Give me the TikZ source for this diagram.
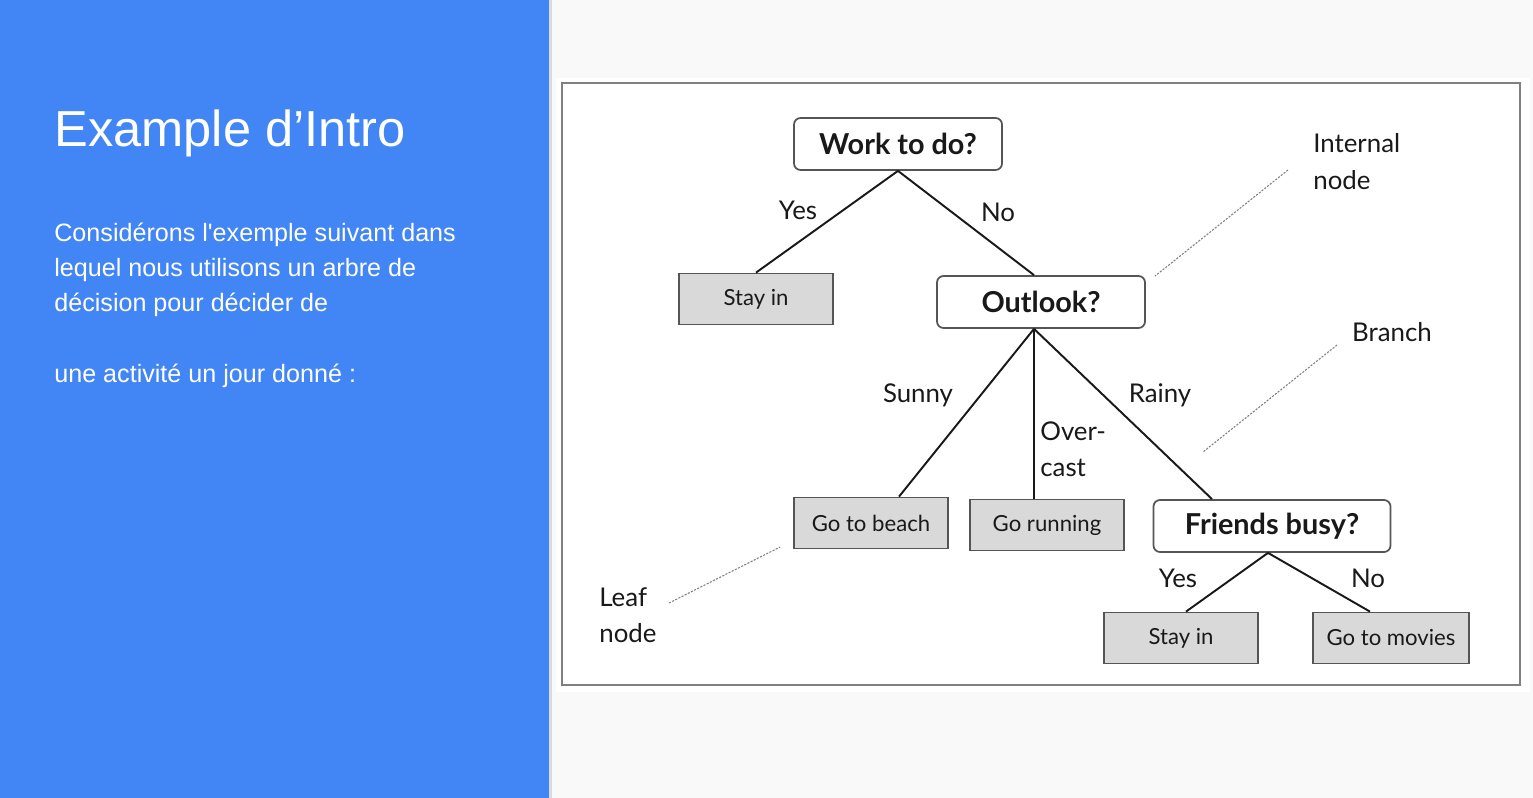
\documentclass[tikz,border=0pt]{standalone}
\usepackage{fontspec}
\setmainfont{Lato}
\newfontfamily\slidefont{Liberation Sans}
\usetikzlibrary{positioning,calc}
\definecolor{SlideBlue}{RGB}{66,133,244}
\definecolor{PageGray}{RGB}{249,249,249}
\definecolor{LeafGray}{RGB}{217,217,217}
\definecolor{EdgeGray}{RGB}{85,85,85}
\definecolor{InkBlack}{RGB}{25,25,25}

\begin{document}
\begin{tikzpicture}[x=0.2mm, y=-0.2mm,
  decision/.style={draw=EdgeGray, line width=1pt, rounded corners=1.3mm, fill=white,
    minimum height=10.4mm, text=InkBlack, font=\fontsize{16.4}{19}\selectfont\bfseries},
  leaf/.style={draw=EdgeGray, line width=1pt, fill=LeafGray, minimum width=30.8mm,
    minimum height=10.2mm, text=InkBlack, font=\fontsize{12.6}{15}\selectfont},
  lbl/.style={text=InkBlack, inner sep=0pt, font=\fontsize{14.7}{17}\selectfont},
  slidetext/.style={anchor=base west, text=white, inner sep=0pt},
  branch/.style={InkBlack, line width=1.1pt},
  pointer/.style={gray, dash pattern=on 1.2pt off 0.8pt, line width=0.6pt}]

  % Page and side panel
  \useasboundingbox (0,0) rectangle (1533,798);
  \fill[PageGray] (0,0) rectangle (1533,798);
  \fill[SlideBlue] (0,0) rectangle (549,798);
  \fill[black, opacity=0.12] (549,0) rectangle (552,798);

  % Slide text
  \node[slidetext, font=\slidefont\fontsize{28.8}{34}\selectfont] (title) at (54,147) {Example d’Intro};
  \node[slidetext, font=\slidefont\fontsize{14.3}{17}\selectfont] (line1) at (54,242) {Considérons l'exemple suivant dans};
  \node[slidetext, font=\slidefont\fontsize{14.3}{17}\selectfont] (line2) at (54,277) {lequel nous utilisons un arbre de};
  \node[slidetext, font=\slidefont\fontsize{14.3}{17}\selectfont] (line3) at (54,312) {décision pour décider de};
  \node[slidetext, font=\slidefont\fontsize{14.3}{17}\selectfont] (line4) at (54,382) {une activité un jour donné :};

  % Picture frame
  \fill[white] (556,78) rectangle (1530,692);
  \draw[gray, line width=0.8pt] (562,83) rectangle (1520,685);

  % Decision nodes
  \node[decision, minimum width=41.6mm] (work) at (898,144) {Work to do?};
  \node[decision, minimum width=41.6mm] (outlook) at (1041,302) {Outlook?};
  \node[decision, minimum width=47.4mm] (friends) at (1272,526) {Friends busy?};

  % Leaf nodes
  \node[leaf] (stayA) at (756,299) {Stay in};
  \node[leaf] (beach) at (871,523) {Go to beach};
  \node[leaf] (running) at (1047,525) {Go running};
  \node[leaf] (stayB) at (1181,638) {Stay in};
  \node[leaf, minimum width=31.2mm] (movies) at (1391,638) {Go to movies};

  % Branches
  \draw[branch] (work.south) -- (stayA.north);
  \draw[branch] (work.south) -- ($(outlook.north)+(-7,0)$);
  \draw[branch] ($(outlook.south)+(-7,0)$) -- ($(beach.north)+(28,0)$);
  \draw[branch] ($(outlook.south)+(-7,0)$) -- ($(running.north)+(-13,0)$);
  \draw[branch] ($(outlook.south)+(-7,0)$) -- ($(friends.north)+(-60,0)$);
  \draw[branch] ($(friends.south)+(-4,0)$) -- ($(stayB.north)+(5,0)$);
  \draw[branch] ($(friends.south)+(-4,0)$) -- ($(movies.north)+(-21,0)$);

  % Branch labels
  \node[lbl] (yesA) at (798,210) {Yes};
  \node[lbl] (noA) at (998,212) {No};
  \node[lbl] (sunny) at (918,395) {Sunny};
  \node[lbl, anchor=west] (over) at (1040,431) {Over-};
  \node[lbl, anchor=west] (cast) at (1040,468) {cast};
  \node[lbl] (rainy) at (1160,395) {Rainy};
  \node[lbl] (yesB) at (1178,578) {Yes};
  \node[lbl] (noB) at (1368,578) {No};

  % Annotations
  \node[lbl, anchor=west] (internal) at (1313,143) {Internal};
  \node[lbl, anchor=west] (internal2) at (1313,180) {node};
  \node[lbl] (branchnote) at (1392,332) {Branch};
  \node[lbl, anchor=west] (leafnote) at (599,597) {Leaf};
  \node[lbl, anchor=west] (leafnote2) at (599,633) {node};

  \coordinate (inA) at (1288,170);
  \coordinate (inB) at ($(outlook.north east)+(9,1)$);
  \coordinate (brA) at (1337,345);
  \coordinate (brB) at (1203,452);
  \coordinate (lfA) at (669,603);
  \coordinate (lfB) at ($(beach.west)+(-13,24)$);
  \draw[pointer] (inA) -- (inB);
  \draw[pointer] (brA) -- (brB);
  \draw[pointer] (lfA) -- (lfB);
\end{tikzpicture}
\end{document}
